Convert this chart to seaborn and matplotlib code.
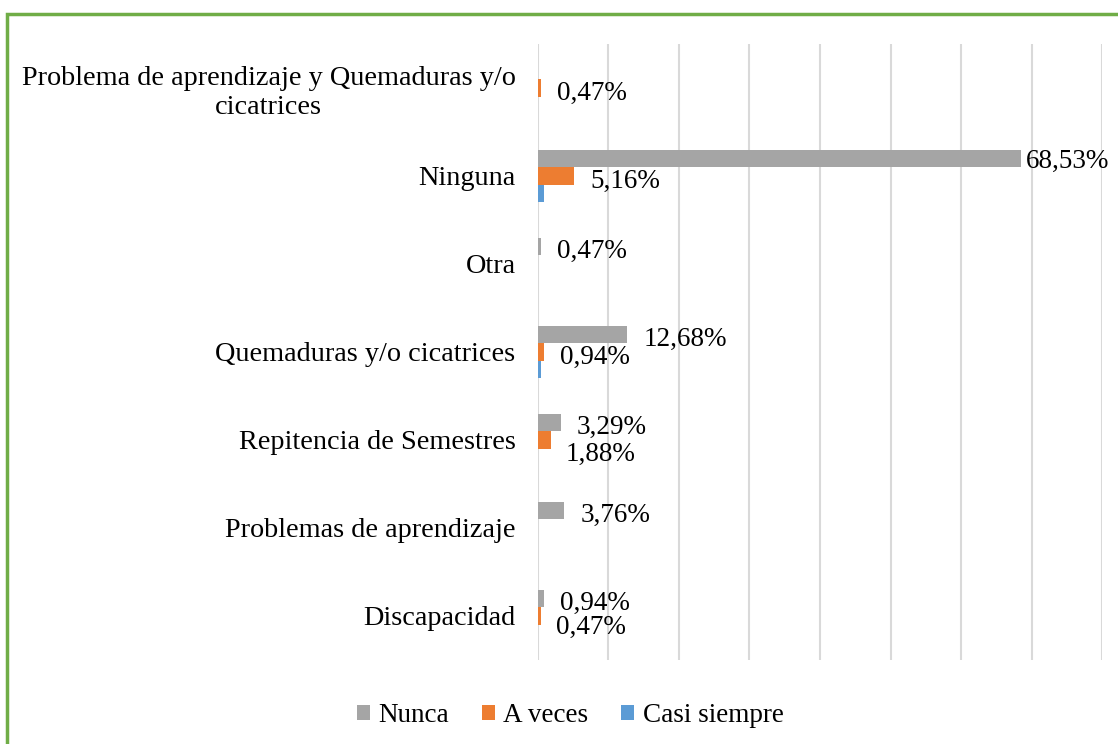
import matplotlib
matplotlib.use("Agg")
import matplotlib.pyplot as plt
import seaborn as sns
import pandas as pd
from matplotlib.patches import Rectangle, Patch

categories = [
    "Problema de aprendizaje y Quemaduras y/o\ncicatrices",
    "Ninguna",
    "Otra",
    "Quemaduras y/o cicatrices",
    "Repitencia de Semestres",
    "Problemas de aprendizaje",
    "Discapacidad",
]
series = ["Nunca", "A veces", "Casi siempre"]
nunca = [0, 68.53, 0.47, 12.68, 3.29, 3.76, 0.94]
a_veces = [0.47, 5.16, 0, 0.94, 1.88, 0, 0.47]
casi_siempre = [0, 0.94, 0, 0.47, 0, 0, 0]
# which values carry a data label in the original
labeled_nunca = [False, True, True, True, True, True, True]
labeled_a_veces = [True, True, False, True, True, False, True]
labeled_casi = [False] * 7

colors = ["#A5A5A5", "#ED7D31", "#5B9BD5"]

# label offsets in pixels (right, below bar centre to baseline), keyed by (category, series)
label_offsets = {
    (1, 0): (4, 10),
    (4, 1): (15, 21),
    (6, 1): (15, 18),
}
DEFAULT_OFFSET = (16, 12)

rows = []
for s, vals in zip(series, [nunca, a_veces, casi_siempre]):
    for c, v in zip(categories, vals):
        rows.append({"cat": c, "serie": s, "valor": v})
df = pd.DataFrame(rows)

sns.set_theme(style="white")
plt.rcParams["font.family"] = ["Liberation Serif", "DejaVu Serif"]

fig = plt.figure(figsize=(11.18, 7.44), dpi=100)
ax = fig.add_axes([0.481, 0.113, 0.505, 0.828])

sns.barplot(data=df, y="cat", x="valor", hue="serie", orient="h",
            palette=colors, hue_order=series, order=categories,
            width=0.6, saturation=1, ax=ax, legend=False, errorbar=None,
            linewidth=0)

ax.set_xlim(0, 80)
ax.set_xticks(range(0, 81, 10))
ax.set_xticklabels([])
ax.grid(axis="x", color="#D9D9D9", linewidth=1.5)
ax.set_axisbelow(True)
for sp in ax.spines.values():
    sp.set_visible(False)
ax.tick_params(axis="both", length=0)
ax.set_xlabel("")
ax.set_ylabel("")
ax.tick_params(axis="y", labelsize=20.3, pad=16, labelcolor="#000000")
for lab in ax.get_yticklabels():
    lab.set_multialignment("center")

def fmt(v):
    return ("%.2f%%" % v).replace(".", ",")

for si, (cont, vals, flags) in enumerate(zip(ax.containers,
                                            [nunca, a_veces, casi_siempre],
                                            [labeled_nunca, labeled_a_veces, labeled_casi])):
    for ci, (bar, v, f) in enumerate(zip(cont.patches, vals, flags)):
        if not f:
            continue
        dx, dy = label_offsets.get((ci, si), DEFAULT_OFFSET)
        yc = bar.get_y() + bar.get_height() / 2
        ax.annotate(fmt(v), xy=(bar.get_width(), yc), xytext=(dx, -dy),
                    textcoords="offset pixels", ha="left", va="baseline",
                    fontsize=19.5, color="#000000", annotation_clip=False)

handles = [Patch(facecolor=c, edgecolor="none") for c in colors]
fig.legend(handles, series, loc="center", bbox_to_anchor=(0.51, 0.038), ncol=3,
           frameon=False, fontsize=19.5, handlelength=0.5, handleheight=0.5,
           handletextpad=0.3, columnspacing=1.2, labelcolor="#000000")

fig.patches.append(Rectangle((7 / 1118, -0.05), 1.2, 1 - 14 / 744 + 0.05,
                             transform=fig.transFigure, fill=False,
                             edgecolor="#70AD47", linewidth=2.5))

fig.savefig("out.png", dpi=100)
